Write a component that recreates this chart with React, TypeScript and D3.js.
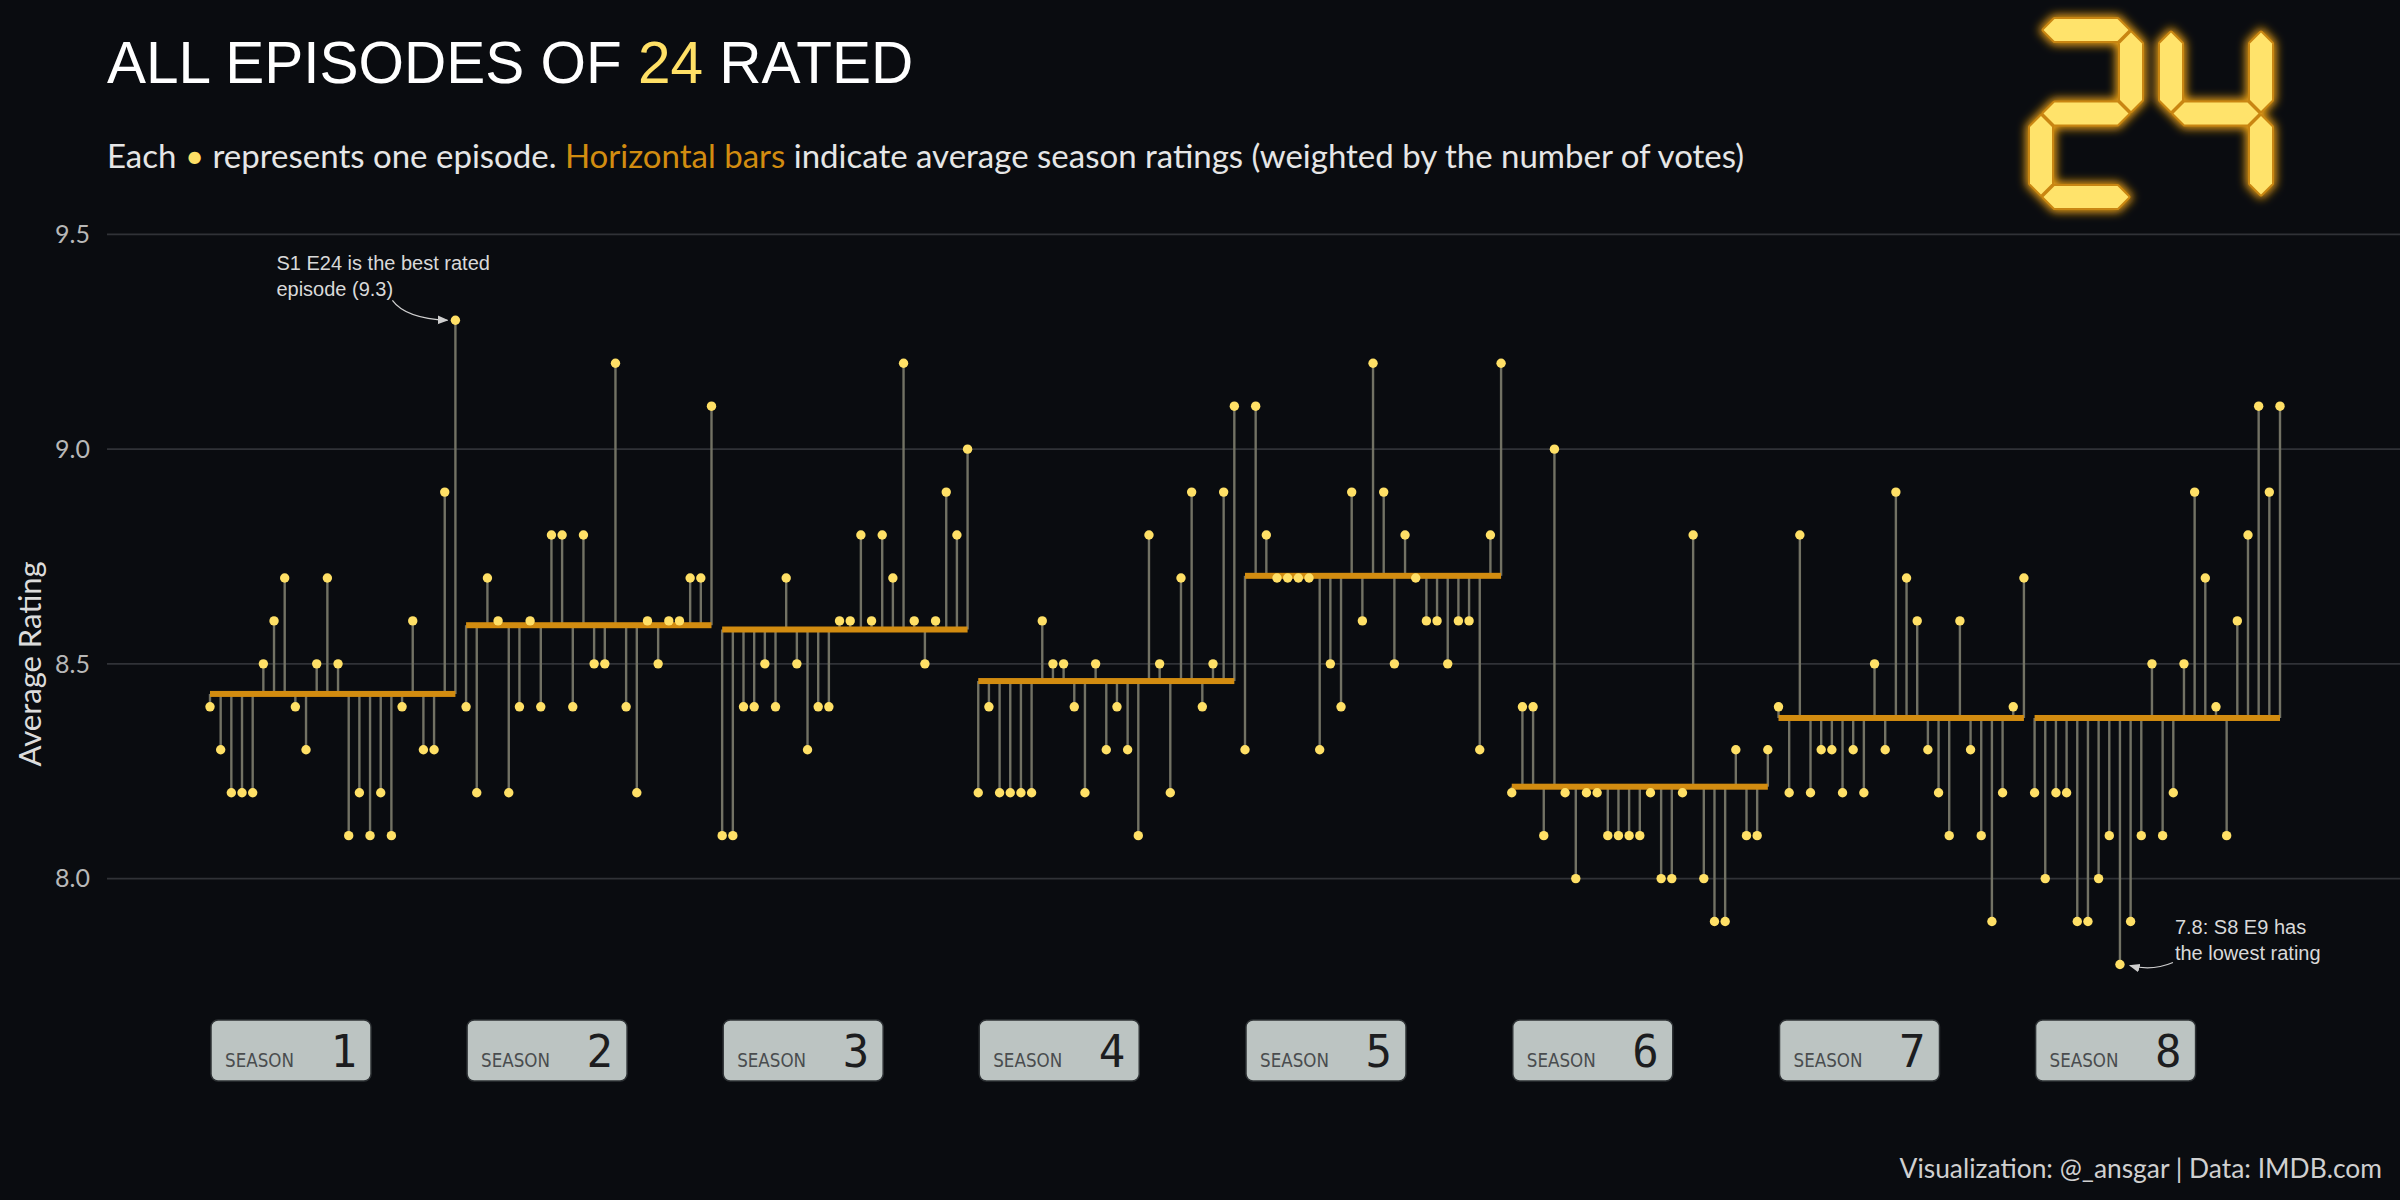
import React from 'react';
import * as d3 from 'd3';

// Episode ratings per season (IMDB)
const S1 = [8.4, 8.3, 8.2, 8.2, 8.2, 8.5, 8.6, 8.7, 8.4, 8.3, 8.5, 8.7, 8.5, 8.1, 8.2, 8.1, 8.2, 8.1, 8.4, 8.6, 8.3, 8.3, 8.9, 9.3];
const S2 = [8.4, 8.2, 8.7, 8.6, 8.2, 8.4, 8.6, 8.4, 8.8, 8.8, 8.4, 8.8, 8.5, 8.5, 9.2, 8.4, 8.2, 8.6, 8.5, 8.6, 8.6, 8.7, 8.7, 9.1];
const S3 = [8.1, 8.1, 8.4, 8.4, 8.5, 8.4, 8.7, 8.5, 8.3, 8.4, 8.4, 8.6, 8.6, 8.8, 8.6, 8.8, 8.7, 9.2, 8.6, 8.5, 8.6, 8.9, 8.8, 9.0];
const S4 = [8.2, 8.4, 8.2, 8.2, 8.2, 8.2, 8.6, 8.5, 8.5, 8.4, 8.2, 8.5, 8.3, 8.4, 8.3, 8.1, 8.8, 8.5, 8.2, 8.7, 8.9, 8.4, 8.5, 8.9, 9.1];
const S5 = [8.3, 9.1, 8.8, 8.7, 8.7, 8.7, 8.7, 8.3, 8.5, 8.4, 8.9, 8.6, 9.2, 8.9, 8.5, 8.8, 8.7, 8.6, 8.6, 8.5, 8.6, 8.6, 8.3, 8.8, 9.2];
const S6 = [8.2, 8.4, 8.4, 8.1, 9.0, 8.2, 8.0, 8.2, 8.2, 8.1, 8.1, 8.1, 8.1, 8.2, 8.0, 8.0, 8.2, 8.8, 8.0, 7.9, 7.9, 8.3, 8.1, 8.1, 8.3];
const S7 = [8.4, 8.2, 8.8, 8.2, 8.3, 8.3, 8.2, 8.3, 8.2, 8.5, 8.3, 8.9, 8.7, 8.6, 8.3, 8.2, 8.1, 8.6, 8.3, 8.1, 7.9, 8.2, 8.4, 8.7];
const S8 = [8.2, 8.0, 8.2, 8.2, 7.9, 7.9, 8.0, 8.1, 7.8, 7.9, 8.1, 8.5, 8.1, 8.2, 8.5, 8.9, 8.7, 8.4, 8.1, 8.6, 8.8, 9.1, 8.9, 9.1];

const SEASONS = [S1, S2, S3, S4, S5, S6, S7, S8];
// weighted season averages (horizontal bars)
const SEASON_AVG = [8.43, 8.59, 8.58, 8.46, 8.705, 8.214, 8.374, 8.374];
const SEASON_NAMES = ['1', '2', '3', '4', '5', '6', '7', '8'];
const Y_TICKS = [8.0, 8.5, 9.0, 9.5];

const W = 2400;
const H = 1200;

const BG = '#0a0c10';
const YELLOW = '#ffe066';
const ORANGE = '#d28c10';
const STEM = '#727264';

interface Ep {
  idx: number;
  season: number;
  ep: number;
  rating: number;
}

const episodes: Ep[] = [];
SEASONS.forEach((s, si) => {
  s.forEach((r, ei) => {
    episodes.push({ idx: episodes.length, season: si, ep: ei + 1, rating: r });
  });
});

const x = d3.scaleLinear().domain([0, episodes.length - 1]).range([210, 2280]);
const y = d3.scaleLinear().domain([8.0, 9.5]).range([878.6, 234.4]);

const seasonRanges = SEASONS.map((_, si) => {
  const eps = episodes.filter(e => e.season === si);
  return { first: eps[0].idx, last: eps[eps.length - 1].idx };
});

// seven segment logo geometry
function hSeg(xa: number, xb: number, c: number, t: number, g: number) {
  const h = t / 2;
  return [
    [xa + g, c], [xa + g + h, c - h], [xb - g - h, c - h],
    [xb - g, c], [xb - g - h, c + h], [xa + g + h, c + h],
  ];
}
function vSeg(ya: number, yb: number, c: number, t: number, g: number) {
  const h = t / 2;
  return [
    [c, ya + g], [c + h, ya + g + h], [c + h, yb - g - h],
    [c, yb - g], [c - h, yb - g - h], [c - h, ya + g + h],
  ];
}
function digitSegs(segs: string, x0: number, y0: number, w: number, h: number, t: number) {
  const g = 2.5;
  const x1 = x0 + w;
  const y1 = y0 + h;
  const ym = y0 + h / 2;
  const out: number[][][] = [];
  const l = x0 + t / 2, r = x1 - t / 2, top = y0 + t / 2, bot = y1 - t / 2;
  if (segs.includes('a')) out.push(hSeg(l, r, top, t, g));
  if (segs.includes('b')) out.push(vSeg(top, ym, r, t, g));
  if (segs.includes('c')) out.push(vSeg(ym, bot, r, t, g));
  if (segs.includes('d')) out.push(hSeg(l, r, bot, t, g));
  if (segs.includes('e')) out.push(vSeg(ym, bot, l, t, g));
  if (segs.includes('f')) out.push(vSeg(top, ym, l, t, g));
  if (segs.includes('g')) out.push(hSeg(l, r, ym, t, g));
  return out;
}

const LOGO = [
  ...digitSegs('abged', 2030, 19, 112, 189, 22),
  ...digitSegs('fbgc', 2160, 19, 112, 189, 22),
];
const polyStr = (p: number[][]) => p.map(q => q.join(',')).join(' ');

const App: React.FC = () => {
  const best = episodes.reduce((a, b) => (b.rating > a.rating ? b : a));
  const worst = episodes.reduce((a, b) => (b.rating < a.rating ? b : a));

  const bx = x(best.idx);
  const by = y(best.rating);
  const wx = x(worst.idx);
  const wy = y(worst.rating);

  return (
    <svg
      width={W}
      height={H}
      viewBox={`0 0 ${W} ${H}`}
      style={{ position: 'absolute', left: 0, top: 0, display: 'block', background: BG }}
    >
      <defs>
        <filter id="glow" x="-30%" y="-30%" width="160%" height="160%">
          <feGaussianBlur stdDeviation="5" />
        </filter>
        <marker id="arrow" viewBox="0 0 10 10" refX="9" refY="5" markerWidth="9" markerHeight="9" orient="auto">
          <path d="M0,1 L10,5 L0,9 z" fill="#cfcfcf" />
        </marker>
      </defs>
      <rect width={W} height={H} fill={BG} />

      {/* title */}
      <text x={107} y={83} fontFamily="'Liberation Sans', Arial, sans-serif" fontSize={58.5} fill="#ffffff">
        ALL EPISODES OF <tspan fill={YELLOW}>24</tspan> RATED
      </text>
      <text x={107} y={168} fontFamily="Lato, 'Open Sans', sans-serif" fontSize={33} fill="#e6e6e6">
        Each <tspan fill={YELLOW}>•</tspan> represents one episode. <tspan fill={ORANGE}>Horizontal bars</tspan> indicate
        average season ratings (weighted by the number of votes)
      </text>

      {/* 24 logo */}
      <g>
        <g filter="url(#glow)">
          {LOGO.map((p, i) => (
            <polygon key={i} points={polyStr(p)} fill="#f0a418" stroke="#f0a418" strokeWidth={8} strokeLinejoin="round" />
          ))}
        </g>
        {LOGO.map((p, i) => (
          <polygon key={'o' + i} points={polyStr(p)} fill="#c98612" stroke="#c98612" strokeWidth={4} strokeLinejoin="round" />
        ))}
        {LOGO.map((p, i) => (
          <polygon key={'y' + i} points={polyStr(p)} fill="#ffe36b" />
        ))}
      </g>

      {/* grid + y axis */}
      {Y_TICKS.map(t => (
        <g key={t}>
          <line x1={107} x2={W} y1={y(t)} y2={y(t)} stroke="#303237" strokeWidth={1.8} />
          <text
            x={90}
            y={y(t)}
            dy="0.35em"
            textAnchor="end"
            fontFamily="Lato, sans-serif"
            fontSize={25}
            fill="#b8b8b8"
          >
            {d3.format('.1f')(t)}
          </text>
        </g>
      ))}
      <text
        transform={`translate(41,${y(8.5)}) rotate(-90)`}
        textAnchor="middle"
        fontFamily="Lato, sans-serif"
        fontSize={31}
        fill="#dcdcdc"
      >
        Average Rating
      </text>

      {/* stems */}
      {episodes.map(e => (
        <line
          key={'s' + e.idx}
          x1={x(e.idx)}
          x2={x(e.idx)}
          y1={y(SEASON_AVG[e.season])}
          y2={y(e.rating)}
          stroke={STEM}
          strokeWidth={2.4}
        />
      ))}

      {/* season average bars */}
      {seasonRanges.map((s, i) => (
        <rect
          key={'b' + i}
          x={x(s.first)}
          y={y(SEASON_AVG[i]) - 3}
          width={x(s.last) - x(s.first)}
          height={6}
          fill={ORANGE}
        />
      ))}

      {/* episode dots */}
      {episodes.map(e => (
        <circle key={'d' + e.idx} cx={x(e.idx)} cy={y(e.rating)} r={4.7} fill={YELLOW} />
      ))}

      {/* annotations */}
      <text fontFamily="'Liberation Sans', Arial, sans-serif" fontSize={20} fill="#d9d9d9">
        <tspan x={bx - 179} y={by - 50}>S1 E24 is the best rated</tspan>
        <tspan x={bx - 179} y={by - 24}>episode (9.3)</tspan>
      </text>
      <path
        d={`M${bx - 63},${by - 20} Q${bx - 50},${by - 2} ${bx - 8},${by}`}
        fill="none"
        stroke="#cfcfcf"
        strokeWidth={1.2}
        markerEnd="url(#arrow)"
      />
      <text fontFamily="'Liberation Sans', Arial, sans-serif" fontSize={20} fill="#d9d9d9">
        <tspan x={wx + 55} y={wy - 30}>7.8: S8 E9 has</tspan>
        <tspan x={wx + 55} y={wy - 4}>the lowest rating</tspan>
      </text>
      <path
        d={`M${wx + 53},${wy - 2} Q${wx + 32},${wy + 7} ${wx + 10},${wy + 1}`}
        fill="none"
        stroke="#cfcfcf"
        strokeWidth={1.2}
        markerEnd="url(#arrow)"
      />

      {/* season labels */}
      {seasonRanges.map((s, i) => {
        const x0 = x(s.first) + 1;
        return (
          <g key={'l' + i}>
            <rect x={x0} y={1020} width={160} height={61} rx={7} fill="#bcc4c2" stroke="#2e3235" strokeWidth={1.5} />
            <text
              x={x0 + 14}
              y={1067}
              fontFamily="'Liberation Sans Narrow', 'DejaVu Sans', sans-serif"
              fontSize={20}
              textLength={69}
              lengthAdjust="spacingAndGlyphs"
              fill="#4a4d4f"
            >
              SEASON
            </text>
            <text
              x={x0 + 146}
              y={1067}
              textAnchor="end"
              fontFamily="'DejaVu Sans Mono', monospace"
              fontSize={44}
              fill="#1c1d1f"
            >
              {SEASON_NAMES[i]}
            </text>
          </g>
        );
      })}

      {/* caption */}
      <text x={2382} y={1178} textAnchor="end" fontFamily="Lato, sans-serif" fontSize={26.4} fill="#d0d0d0">
        Visualization: @_ansgar | Data: IMDB.com
      </text>
    </svg>
  );
};

export default App;
